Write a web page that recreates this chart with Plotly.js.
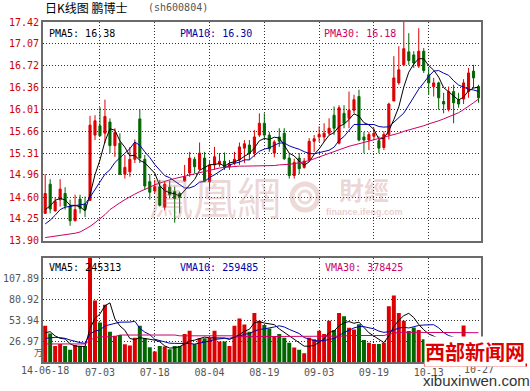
<!DOCTYPE html>
<html><head><meta charset="utf-8">
<script src="https://cdn.plot.ly/plotly-3.0.1.min.js"></script>
<style>html,body{margin:0;padding:0;background:#fff;}#chart{width:530px;height:391px;}</style>
</head><body><div id="chart"></div>
<script>
// ---- data ----
const dates = ['2014-06-18','2014-06-19','2014-06-20','2014-06-23','2014-06-24','2014-06-25','2014-06-26','2014-06-27','2014-06-30',
'2014-07-01','2014-07-02','2014-07-03','2014-07-04','2014-07-07','2014-07-08','2014-07-09','2014-07-10','2014-07-11','2014-07-14','2014-07-15','2014-07-16','2014-07-17','2014-07-18','2014-07-21','2014-07-22','2014-07-23','2014-07-24','2014-07-25','2014-07-28','2014-07-29','2014-07-30','2014-07-31',
'2014-08-01','2014-08-04','2014-08-05','2014-08-06','2014-08-07','2014-08-08','2014-08-11','2014-08-12','2014-08-13','2014-08-14','2014-08-15','2014-08-18','2014-08-19','2014-08-20','2014-08-21','2014-08-22','2014-08-25','2014-08-26','2014-08-27','2014-08-28','2014-08-29',
'2014-09-01','2014-09-02','2014-09-03','2014-09-04','2014-09-05','2014-09-09','2014-09-10','2014-09-11','2014-09-12','2014-09-15','2014-09-16','2014-09-17','2014-09-18','2014-09-19','2014-09-22','2014-09-23','2014-09-24','2014-09-25','2014-09-26','2014-09-29','2014-09-30',
'2014-10-08','2014-10-09','2014-10-10','2014-10-13','2014-10-14','2014-10-15','2014-10-16','2014-10-17','2014-10-20','2014-10-21','2014-10-22','2014-10-23','2014-10-24','2014-10-27'];

const openP = [14.34,14.81,14.38,14.56,14.66,14.46,14.22,14.57,14.49,14.55,
15.60,15.75,15.63,15.81,15.43,15.47,14.97,15.01,15.21,15.86,
15.21,14.85,14.70,14.77,14.44,14.76,14.69,14.66,14.86,14.99,
15.21,15.05,15.23,14.85,15.12,15.13,15.18,15.09,15.15,15.20,
15.39,15.44,15.31,15.60,15.79,15.60,15.31,15.57,15.63,15.23,
14.95,15.23,15.08,15.20,15.50,15.57,15.57,15.63,15.92,15.47,
15.95,15.87,16.00,16.22,15.57,15.52,15.58,15.51,15.40,15.61,
16.15,16.44,16.73,16.94,16.89,16.71,16.95,16.57,16.38,16.44,
16.14,16.01,16.30,16.17,16.18,16.30,16.63,16.38];

const highP = [14.97,14.89,14.60,14.89,14.76,14.56,14.64,14.64,14.61,15.91,
15.92,16.05,16.17,15.87,15.71,15.63,15.28,15.41,15.53,16.02,
15.28,14.97,14.88,14.88,14.85,14.87,14.77,14.69,15.12,15.33,
15.25,15.48,15.33,15.20,15.41,15.31,15.32,15.20,15.33,15.48,
15.52,15.52,15.68,15.95,15.95,15.65,15.52,15.71,15.71,15.31,
15.22,15.31,15.23,15.55,15.60,15.74,15.79,15.87,16.06,16.08,
16.08,16.30,16.25,16.33,15.65,15.65,15.71,15.58,15.66,16.12,
16.87,17.03,17.42,17.24,16.95,17.32,17.00,16.68,16.52,16.46,
16.28,16.38,16.41,16.28,16.50,16.68,16.73,16.41];

const lowP = [14.33,14.34,14.37,14.45,14.40,14.14,14.22,14.34,14.28,14.54,
15.52,15.58,15.47,15.31,15.25,14.96,14.90,14.93,15.15,15.15,
14.72,14.56,14.66,14.45,14.39,14.58,14.19,14.34,14.85,14.93,
14.99,15.04,14.85,14.72,15.04,15.09,15.04,15.04,15.12,15.12,
15.15,15.20,15.25,15.57,15.52,15.33,15.24,15.41,15.20,14.90,
14.90,14.97,15.06,15.17,15.33,15.49,15.49,15.60,15.60,15.45,
15.71,15.71,15.95,15.50,15.31,15.36,15.53,15.31,15.36,15.53,
16.14,16.41,16.71,16.73,16.68,16.68,16.60,16.25,16.22,16.01,
15.95,15.98,15.79,16.04,16.10,16.20,16.36,16.12];

const closeP = [14.66,14.41,14.53,14.73,14.46,14.22,14.40,14.42,14.40,15.76,
15.83,15.59,15.90,15.43,15.64,14.97,15.08,15.21,15.47,15.23,
14.78,14.68,14.77,14.47,14.81,14.64,14.58,14.60,14.93,15.23,
15.09,15.31,14.86,15.12,15.25,15.18,15.08,15.13,15.21,15.41,
15.46,15.31,15.57,15.79,15.60,15.38,15.49,15.50,15.22,14.95,
15.16,15.06,15.18,15.50,15.54,15.61,15.63,15.71,15.71,16.04,
15.79,16.00,16.17,15.52,15.52,15.61,15.63,15.39,15.61,16.10,
16.52,16.65,16.99,16.80,16.76,16.95,16.64,16.44,16.44,16.20,
16.10,16.30,16.12,16.10,16.44,16.60,16.52,16.20];

// volume in 万 (10k)
const volume = [46.7,36.9,20.8,23.3,20.8,15.7,22.0,20.8,20.8,138,
79.5,51.0,74.0,39.1,34.0,34.8,22.9,21.2,31.4,46.7,
30.5,19.1,13.5,20.8,19.9,16.5,20.8,20.8,36.1,40.3,
23.3,30.5,30.5,31.4,40.3,26.3,26.3,20.8,46.7,56.1,
48.4,39.1,63.3,53.1,47.6,43.3,33.5,36.1,31.4,25.0,
18.6,15.7,11.4,31.4,29.3,40.3,36.1,53.1,41.2,63.3,
59.1,44.2,42.0,48.8,28.4,25.0,23.3,23.3,25.0,71.8,
85.9,63.3,53.1,39.9,44.6,41.2,29.3,26.3,26.0,32.0,
24.0,25.0,30.0,20.0,47.0,28.0,15.0,13.0];

// moving-average values before the window is full
const ma5Head = [14.40,14.46,14.55,14.58];
const ma10Head = [14.17,14.23,14.31,14.40,14.44,14.45,14.46,14.47,14.49];
const ma30 = [13.95,13.96,13.97,13.98,13.99,14.00,14.02,14.04,14.08,
14.13,14.19,14.25,14.32,14.40,14.46,14.51,14.56,14.61,14.65,14.69,14.72,
14.76,14.80,14.83,14.86,14.88,14.90,14.92,14.94,14.96,14.98,15.00,15.02,15.04,15.05,15.07,15.08,15.09,15.10,15.10,15.10,15.10,15.10,15.10,
15.10,15.10,15.11,15.12,15.12,15.13,15.14,15.15,15.17,15.19,15.22,15.25,15.28,15.31,15.34,15.37,15.40,15.42,15.44,15.46,15.48,15.50,
15.52,15.54,15.56,15.58,15.61,15.63,15.66,15.68,15.70,15.73,15.75,15.78,15.80,15.83,15.86,15.89,15.92,15.96,16.01,16.06,16.12,16.18];
const vma5Head = [37.8,39.1,33.6,30.6];
const vma10Head = [30.5,31.4,31.8,31.4,30.5,28.4,26.3,25.0,24.1];
const vma30 = [23.3,23.3,23.3,23.3,23.3,23.3,23.3,23.3,23.3,
28.0,31.5,32.5,32.7,32.7,32.7,
34.8,34.8,34.8,34.8,34.8,34.8,34.8,34.8,34.8,34.8,34.8,34.8,
33.8,33.8,33.8,33.8,33.8,33.8,33.8,33.8,33.8,33.8,33.8,33.8,
32.7,32.7,32.7,32.7,32.7,32.7,32.7,32.7,32.7,32.7,32.7,32.7,32.7,32.7,
33.4,33.4,33.4,33.4,33.4,33.4,33.4,33.4,
34.2,34.2,34.2,34.2,34.2,34.2,34.2,34.2,
36.0,37.5,38.2,38.3,38.3,38.3,38.3,38.2,38.2,38.1,38.1,38.0,38.0,38.0,37.9,37.9,37.9,37.8,37.8];

const tickDates = ['2014-06-18','2014-07-03','2014-07-18','2014-08-04','2014-08-19','2014-09-03','2014-09-19','2014-10-13','2014-10-27'];
const priceTickText = ['13.90','14.25','14.60','14.96','15.31','15.66','16.01','16.36','16.72','17.07','17.42'];
const volTickText = ['26.97','53.94','80.92','107.89'];
const legendText = {pma5:'PMA5: 16.38', pma10:'PMA10: 16.30', pma30:'PMA30: 16.18',
                    vma5:'VMA5: 245313', vma10:'VMA10: 259485', vma30:'VMA30: 378425'};

// ---- derived ----
function rolling(vals, n, head){
  return vals.map((v,i)=> i < n-1 ? head[i] : vals.slice(i-n+1,i+1).reduce((a,b)=>a+b,0)/n);
}
const idx = dates.map((d,i)=>i);
const ma5 = rolling(closeP,5,ma5Head);
const ma10 = rolling(closeP,10,ma10Head);
const vma5 = rolling(volume,5,vma5Head);
const vma10 = rolling(volume,10,vma10Head);
const RED='#dd0000', GREEN='#006600', BLUE='#0000aa', MAG='#cc0066';
const volColors = closeP.map((c,i)=> c>=openP[i] ? RED : GREEN);

const tickIdx = tickDates.map(d=>dates.indexOf(d));
const innerIdx = tickIdx.slice(1,-1);
const innerTxt = tickDates.slice(1,-1).map(d=>d.slice(5));

const traces = [
  {type:'candlestick', x:idx, open:openP, high:highP, low:lowP, close:closeP, xaxis:'x', yaxis:'y',
   increasing:{line:{color:RED,width:1}, fillcolor:RED},
   decreasing:{line:{color:GREEN,width:1}, fillcolor:GREEN},
   whiskerwidth:0, hoverinfo:'skip', showlegend:false},
  {type:'scatter', mode:'lines', x:idx, y:ma5, line:{color:'#000000',width:1}, xaxis:'x', yaxis:'y', hoverinfo:'skip'},
  {type:'scatter', mode:'lines', x:idx, y:ma10, line:{color:BLUE,width:1}, xaxis:'x', yaxis:'y', hoverinfo:'skip'},
  {type:'scatter', mode:'lines', x:idx, y:ma30, line:{color:MAG,width:1}, xaxis:'x', yaxis:'y', hoverinfo:'skip'},
  {type:'bar', x:idx, y:volume, marker:{color:volColors, line:{width:0}}, xaxis:'x2', yaxis:'y2', hoverinfo:'skip', cliponaxis:false},
  {type:'scatter', mode:'lines', x:idx, y:vma5, line:{color:'#000000',width:1}, xaxis:'x2', yaxis:'y2', hoverinfo:'skip'},
  {type:'scatter', mode:'lines', x:idx, y:vma10, line:{color:BLUE,width:1}, xaxis:'x2', yaxis:'y2', hoverinfo:'skip'},
  {type:'scatter', mode:'lines', x:idx, y:vma30, line:{color:MAG,width:1}, xaxis:'x2', yaxis:'y2', hoverinfo:'skip'}
];

const axBase = {showgrid:true, gridcolor:'#333', griddash:'1px,2px', gridwidth:1, zeroline:false,
  showline:true, mirror:true, linecolor:'#6a6a6a', linewidth:2, ticks:'', fixedrange:true};
const MONO = 'DejaVu Sans Mono, monospace';
const L=43, R=481, T=22, B=362;
const px = v => (v-L)/(R-L);
const py = v => (B-v)/(B-T);
const xr = [-0.44, 87.5];

const wm = 'rgba(190,110,110,0.28)';
const annotations = [
  {xref:'paper', yref:'paper', x:px(43), y:py(8), xanchor:'left', yanchor:'middle', showarrow:false,
   text:'日K线图 鹏博士', font:{family:'Noto Sans CJK SC', size:12, color:'#000'}},
  {xref:'paper', yref:'paper', x:px(146), y:py(8), xanchor:'left', yanchor:'middle', showarrow:false,
   text:'(sh600804)', font:{family:MONO, size:10, color:'#555'}},
  {xref:'paper', yref:'paper', x:px(47), y:py(33), xanchor:'left', yanchor:'middle', showarrow:false,
   text:legendText.pma5, font:{family:MONO, size:10, color:'#000'}},
  {xref:'paper', yref:'paper', x:px(178), y:py(33), xanchor:'left', yanchor:'middle', showarrow:false,
   text:legendText.pma10, font:{family:MONO, size:10, color:BLUE}},
  {xref:'paper', yref:'paper', x:px(322), y:py(33), xanchor:'left', yanchor:'middle', showarrow:false,
   text:legendText.pma30, font:{family:MONO, size:10, color:MAG}},
  {xref:'paper', yref:'paper', x:px(47), y:py(267.5), xanchor:'left', yanchor:'middle', showarrow:false,
   text:legendText.vma5, font:{family:MONO, size:10, color:'#000'}},
  {xref:'paper', yref:'paper', x:px(178), y:py(267.5), xanchor:'left', yanchor:'middle', showarrow:false,
   text:legendText.vma10, font:{family:MONO, size:10, color:BLUE}},
  {xref:'paper', yref:'paper', x:px(323), y:py(267.5), xanchor:'left', yanchor:'middle', showarrow:false,
   text:legendText.vma30, font:{family:MONO, size:10, color:MAG}},
  {xref:'paper', yref:'paper', x:px(38.5), y:py(352), xanchor:'center', yanchor:'middle', showarrow:false,
   text:'万', font:{family:'Noto Sans CJK SC', size:9, color:'#555'}},
  {xref:'x2', yref:'paper', x:tickIdx[0], y:py(370.5), xanchor:'center', yanchor:'middle', showarrow:false,
   text:tickDates[0].slice(2), font:{family:MONO, size:10, color:'#555'}},
  {xref:'x2', yref:'paper', x:tickIdx[tickIdx.length-1], y:py(369.5), xanchor:'center', yanchor:'middle', showarrow:false,
   text:tickDates[tickDates.length-1].slice(5), font:{family:MONO, size:10, color:'#555'}},
  // ifeng watermark
  {xref:'paper', yref:'paper', x:px(215), y:py(196), xanchor:'center', yanchor:'middle', showarrow:false,
   text:'鳳凰網', font:{family:'Noto Sans CJK TC', size:44, color:wm}},
  {xref:'paper', yref:'paper', x:px(364), y:py(189), xanchor:'center', yanchor:'middle', showarrow:false,
   text:'<b>財經</b>', font:{family:'Noto Sans CJK TC', size:25, color:wm}},
  {xref:'paper', yref:'paper', x:px(364), y:py(212), xanchor:'center', yanchor:'middle', showarrow:false,
   text:'<b>finance.ifeng.com</b>', font:{family:'Liberation Sans', size:9, color:'rgba(190,110,110,0.35)'}},
  // xibuxinwen watermark
  {xref:'paper', yref:'paper', x:px(475), y:py(351), xanchor:'center', yanchor:'middle', showarrow:false,
   text:'<b>西部新闻网</b>', bgcolor:'#ffffff', borderpad:0, font:{family:'Noto Sans CJK SC', size:20, color:'#dd0000'}},
  {xref:'paper', yref:'paper', x:px(476), y:py(380.5), xanchor:'center', yanchor:'middle', showarrow:false,
   text:'xibuxinwen.com', font:{family:'Liberation Sans', size:15, color:'#333'}}
];

const shapes = [
  {type:'circle', xref:'paper', yref:'paper', x0:px(292), x1:px(318), y0:py(210), y1:py(184), layer:'below',
   line:{color:'rgba(200,130,130,0.3)', width:5}},
  {type:'circle', xref:'paper', yref:'paper', x0:px(299), x1:px(311), y0:py(203), y1:py(191), layer:'below',
   line:{color:'rgba(200,130,130,0.3)', width:3}},
  {type:'line', xref:'paper', yref:'paper', x0:px(424), x1:px(527), y0:py(365), y1:py(365),
   line:{color:'#e00000', width:3}}
];

const layout = {
  width:530, height:391, margin:{l:L, r:530-R, t:T, b:391-B},
  paper_bgcolor:'#ffffff', plot_bgcolor:'#ffffff', showlegend:false,
  boxgap:0.4, bargap:0.2,
  xaxis: Object.assign({}, axBase, {domain:[0,1], anchor:'y', range:xr, tickvals:innerIdx, showticklabels:false,
    rangeslider:{visible:false}}),
  yaxis: Object.assign({}, axBase, {domain:[py(240.7),1], anchor:'x', range:[13.90,17.42],
    tickvals:priceTickText.map(Number), ticktext:priceTickText,
    tickfont:{family:MONO, size:10, color:'#d00000'}}),
  xaxis2: Object.assign({}, axBase, {domain:[0,1], anchor:'y2', range:xr, tickvals:innerIdx, ticktext:innerTxt,
    tickfont:{family:MONO, size:10, color:'#555'}}),
  yaxis2: Object.assign({}, axBase, {domain:[0,py(257.5)], anchor:'x2', range:[0,134.86],
    tickvals:volTickText.map(Number), ticktext:volTickText,
    tickfont:{family:MONO, size:10, color:'#555'}}),
  annotations:annotations, shapes:shapes
};

Plotly.newPlot('chart', traces, layout, {staticPlot:true, displayModeBar:false});
</script></body></html>
